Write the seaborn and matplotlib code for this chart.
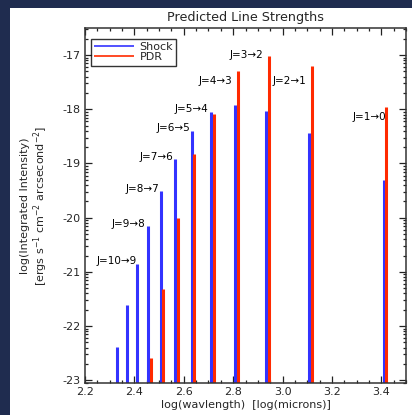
import numpy as np
import pandas as pd
import matplotlib
matplotlib.use("Agg")
import matplotlib.pyplot as plt
from matplotlib.ticker import FixedLocator, MultipleLocator
from matplotlib.patches import Rectangle
import seaborn as sns

# CO rotational transitions, J=1->0 ... J=12->11
transitions = ["J=1\u21920", "J=2\u21921", "J=3\u21922", "J=4\u21923", "J=5\u21924",
               "J=6\u21925", "J=7\u21926", "J=8\u21927", "J=9\u21928", "J=10\u21929",
               "J=11\u219210", "J=12\u219211"]
log_wavelength = [3.415, 3.114, 2.938, 2.813, 2.716, 2.637, 2.570, 2.512,
                  2.461, 2.415, 2.374, 2.336]
# log integrated intensity [ergs s^-1 cm^-2 arcsec^-2]
shock_logI = [-19.31, -18.43, -18.03, -17.92, -18.05, -18.40, -18.92, -19.51,
              -20.16, -20.86, -21.61, -22.39]
pdr_logI = [-17.96, -17.20, -17.02, -17.30, -18.09, -18.83, -20.01, -21.32,
            -22.59]
# transitions that carry a text label
labelled = transitions[:10]

# layout
Y_MIN, Y_MAX = -23.05, -16.5
X_MIN, X_MAX = 2.2, 3.5
DX = 0.0052
label_pos = [(3.420, -18.15), (3.097, -17.48), (2.923, -16.99), (2.798, -17.48),
             (2.701, -18.00), (2.627, -18.34), (2.556, -18.88), (2.499, -19.47),
             (2.445, -20.11), (2.410, -20.80)]

rows = []
for name, vals, off in (("Shock", shock_logI, -DX), ("PDR", pdr_logI, DX)):
    for i, v in enumerate(vals):
        x = log_wavelength[i] + off
        rows.append({"series": name, "line": f"{name}{i}", "x": x, "y": Y_MIN})
        rows.append({"series": name, "line": f"{name}{i}", "x": x, "y": v})
df = pd.DataFrame(rows)

sns.set_style("ticks")
plt.rcParams["font.family"] = ["DejaVu Sans"]
plt.rcParams["axes.unicode_minus"] = False

fig = plt.figure(figsize=(4.12, 4.15), dpi=100, facecolor="#1f2c4f")
fig.patches.append(Rectangle((10 / 412, 0), 1, 407 / 415, transform=fig.transFigure,
                             facecolor="white", edgecolor="none", zorder=-10))
ax = fig.add_axes([85 / 412, 32 / 415, 321 / 412, 355 / 415])
ax.set_zorder(5)

sns.lineplot(data=df, x="x", y="y", hue="series", units="line", estimator=None,
             sort=False, hue_order=["Shock", "PDR"],
             palette={"Shock": "#3333ff", "PDR": "#ff2a00"},
             linewidth=2.2, solid_capstyle="butt", ax=ax)

for (tx, ty), lab in zip(label_pos, labelled):
    ax.text(tx, ty, lab, ha="right", va="center", fontsize=7.5, color="black")

ax.set_xlim(X_MIN, X_MAX)
ax.set_ylim(Y_MIN, Y_MAX)
ax.xaxis.set_minor_locator(MultipleLocator(0.05))
xt = np.arange(2.2, 3.45, 0.2)
ax.set_xticks(xt)
ax.set_xticklabels([f"{v:.1f}" for v in xt])
yt = np.arange(-23, -16.9, 1)
ax.set_yticks(yt)
ax.set_yticklabels([f"-{abs(int(round(v)))}" for v in yt])
minor_y = [n + np.log10(k) for n in range(-24, -16) for k in range(2, 10)]
ax.yaxis.set_minor_locator(FixedLocator([m for m in minor_y if Y_MIN < m < Y_MAX]))

ax.tick_params(which="both", direction="in", top=True, right=True,
               labelsize=8, color="#222222", width=0.9, pad=3)
ax.tick_params(which="major", length=5)
ax.tick_params(which="minor", length=2.5)
for s in ax.spines.values():
    s.set_linewidth(1.1)
    s.set_color("#333333")

ax.set_title("Predicted Line Strengths", fontsize=9.2, pad=5)
ax.set_xlabel("log(wavlength)  [log(microns)]", fontsize=8, labelpad=2)
ax.set_ylabel("log(Integrated Intensity)\n"
              "[ergs s$^{-1}$ cm$^{-2}$ arcsecond$^{-2}$]", fontsize=8,
              labelpad=9, linespacing=1.1)

leg = ax.legend(loc="upper left", fontsize=8, frameon=True, fancybox=False,
                edgecolor="black", handlelength=3.6, borderpad=0.3,
                labelspacing=0.0, handletextpad=0.5, borderaxespad=0.5,
                bbox_to_anchor=(0.0, 0.985))
leg.get_frame().set_linewidth(1.0)
for h in leg.get_lines():
    h.set_linewidth(1.2)

fig.savefig("out.png", dpi=100, facecolor=fig.get_facecolor())
